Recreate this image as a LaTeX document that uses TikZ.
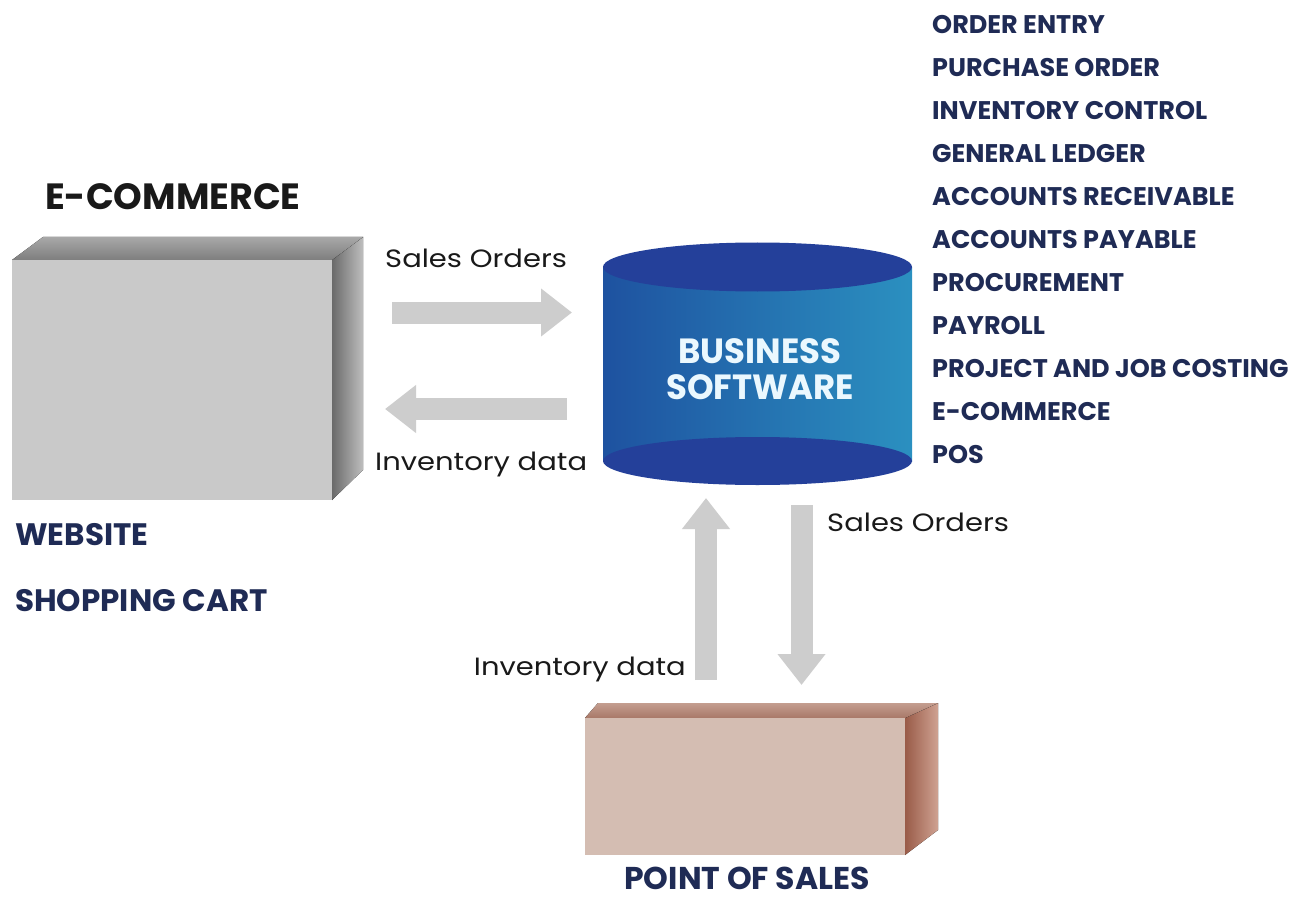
\documentclass[tikz,border=0pt]{standalone}
\usepackage{fontspec}
\setmainfont{Poppins}
\usetikzlibrary{arrows.meta}
\definecolor{navy}{HTML}{1F2B55}
\definecolor{arrowgray}{HTML}{CDCDCD}
\definecolor{cylcap}{HTML}{24409A}
\definecolor{cylleft}{HTML}{1E52A0}
\definecolor{cylright}{HTML}{2B90C0}
\definecolor{ecfront}{HTML}{C9C9C9}
\definecolor{ectopback}{HTML}{A8A8A8}
\definecolor{ectopfront}{HTML}{7E7E7E}
\definecolor{ecsideL}{HTML}{6A6A6A}
\definecolor{ecsideR}{HTML}{BEBEBE}
\definecolor{posfront}{HTML}{D4BDB2}
\definecolor{postopback}{HTML}{C49E90}
\definecolor{postopfront}{HTML}{A87868}
\definecolor{possideL}{HTML}{995B48}
\definecolor{possideR}{HTML}{CFA292}
\tikzset{
  blockarrow/.style={draw=arrowgray, line width=22pt, -{Triangle[width=46pt,length=31pt]}},
  heading/.style={inner sep=0pt, text=navy, font=\fontsize{31}{34}\selectfont\bfseries},
  listitem/.style={inner sep=0pt, anchor=base west, text=navy, font=\fontsize{25.5}{28}\selectfont\bfseries},
  flowlabel/.style={inner sep=0pt, text=black!90, font=\fontsize{25}{28}\selectfont, xscale=1.16, transform shape},
}
\begin{document}
\begin{tikzpicture}[x=1pt,y=-1pt]
\useasboundingbox[fill=white] (0,0) rectangle (1316,901);

% ---- E-commerce box (grey 3D) ----
\fill[left color=ecsideL, right color=ecsideR] (332,260) -- (363,237) -- (363,470) -- (332,500) -- cycle;
\fill[top color=ectopback, bottom color=ectopfront] (12,260) -- (43,237) -- (363,237) -- (332,260) -- cycle;
\fill[ecfront] (12,260) rectangle (332,500);
\node[inner sep=0pt, minimum width=320pt, minimum height=240pt] (ecbox) at (172,380) {};

\node[inner sep=0pt, anchor=base west, text=black!90, font=\fontsize{36.5}{40}\selectfont\bfseries] (ectitle) at (45,210) {E-COMMERCE};
\node[heading, anchor=base west] (website) at (15,545) {WEBSITE};
\node[heading, anchor=base west] (cart) at (15,611) {SHOPPING CART};

% ---- Business software cylinder ----
\fill[left color=cylleft, right color=cylright] (603,267) rectangle (912,461);
\fill[cylcap] (757.5,461) ellipse [x radius=154.5, y radius=24];
\fill[cylcap] (757.5,267) ellipse [x radius=154.5, y radius=24.5];
\node[inner sep=0pt, align=center, text=white!92!cyan, font=\fontsize{35}{36}\selectfont\bfseries, xscale=0.97, transform shape] (bs) at (760,369.5) {BUSINESS\\SOFTWARE};

% ---- POS box ----
\fill[left color=possideL, right color=possideR] (905,718) -- (938,703) -- (938,830) -- (905,855) -- cycle;
\fill[top color=postopback, bottom color=postopfront] (585,718) -- (598,703) -- (938,703) -- (905,718) -- cycle;
\fill[posfront] (585,718) rectangle (905,855);
\node[inner sep=0pt, minimum width=320pt, minimum height=137pt] (posbox) at (745,786.5) {};
\node[inner sep=0pt, text=navy, font=\fontsize{31.5}{34}\selectfont\bfseries, anchor=base] (postitle) at (747,889) {POINT OF SALES};

% ---- arrows ----
\coordinate (a1s) at (392,312.5); \coordinate (a1e) at (572,312.5);
\coordinate (a2s) at (567,409);   \coordinate (a2e) at (385,409);
\coordinate (a3s) at (706,680);   \coordinate (a3e) at (706,498);
\coordinate (a4s) at (801.5,505); \coordinate (a4e) at (801.5,685);
\draw[blockarrow] (a1s) -- (a1e);
\draw[blockarrow] (a2s) -- (a2e);
\draw[blockarrow] (a3s) -- (a3e);
\draw[blockarrow] (a4s) -- (a4e);

\node[flowlabel, anchor=base west] (l1) at (385,268) {Sales Orders};
\node[flowlabel, anchor=base west] (l2) at (375,470) {Inventory data};
\node[flowlabel, anchor=base west] (l3) at (827,531) {Sales Orders};
\node[flowlabel, anchor=base east] (l4) at (686,675) {Inventory data};

% ---- module list ----
\node[listitem] (m1) at (932,33.5) {ORDER ENTRY};
\node[listitem] (m2) at (932,76.5) {PURCHASE ORDER};
\node[listitem] (m3) at (932,119.5) {INVENTORY CONTROL};
\node[listitem] (m4) at (932,162.5) {GENERAL LEDGER};
\node[listitem] (m5) at (932,205.5) {ACCOUNTS RECEIVABLE};
\node[listitem] (m6) at (932,248.5) {ACCOUNTS PAYABLE};
\node[listitem] (m7) at (932,291.5) {PROCUREMENT};
\node[listitem] (m8) at (932,334.5) {PAYROLL};
\node[listitem] (m9) at (932,377.5) {PROJECT AND JOB COSTING};
\node[listitem] (m10) at (932,420.5) {E-COMMERCE};
\node[listitem] (m11) at (932,463.5) {POS};
\end{tikzpicture}
\end{document}
